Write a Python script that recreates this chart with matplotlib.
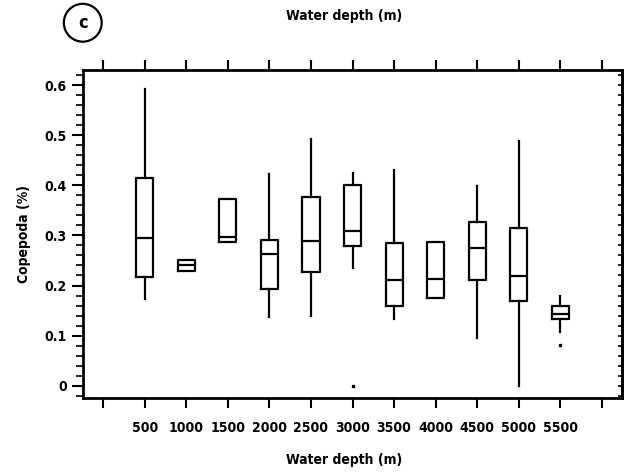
import matplotlib
matplotlib.use("Agg")
import matplotlib.pyplot as plt
from matplotlib.ticker import MultipleLocator

plt.rcParams['font.family'] = ['DejaVu Sans']
plt.rcParams['font.stretch'] = 'condensed'
plt.rcParams['font.weight'] = 'bold'

# water depth classes (m) and copepod share per class
depths = [500, 1000, 1500, 2000, 2500, 3000, 3500, 4000, 4500, 5000, 5500]
whisk_low = [0.174, 0.229, 0.287, 0.137, 0.140, 0.234, 0.133, 0.176, 0.095, 0.000, 0.107]
q1 = [0.216, 0.229, 0.287, 0.194, 0.226, 0.279, 0.160, 0.176, 0.210, 0.170, 0.134]
median = [0.294, 0.240, 0.296, 0.262, 0.289, 0.309, 0.210, 0.212, 0.274, 0.218, 0.143]
q3 = [0.415, 0.251, 0.373, 0.291, 0.377, 0.401, 0.284, 0.286, 0.326, 0.314, 0.159]
whisk_high = [0.592, 0.251, 0.373, 0.422, 0.492, 0.424, 0.431, 0.286, 0.399, 0.489, 0.180]
outliers = [[], [], [], [], [], [0.0], [], [], [], [], [0.081]]

stats = []
for i in range(len(depths)):
    stats.append(dict(whislo=whisk_low[i], q1=q1[i], med=median[i],
                      q3=q3[i], whishi=whisk_high[i], fliers=outliers[i]))

fig = plt.figure(figsize=(6.27, 4.74), dpi=100)
ax = fig.add_axes([0.133, 0.161, 0.8585, 0.691])

lw = 1.6
ax.bxp(stats, positions=depths, widths=205, showcaps=False, patch_artist=False,
       boxprops=dict(color='black', linewidth=lw),
       medianprops=dict(color='black', linewidth=lw),
       whiskerprops=dict(color='black', linewidth=lw),
       flierprops=dict(marker='s', markersize=1.5, markerfacecolor='black',
                       markeredgecolor='black'),
       manage_ticks=False)

ax.set_xlim(-240, 6240)
ax.set_ylim(-0.024, 0.630)

ax.set_xticks(range(0, 6001, 500))
ax.set_xticklabels([''] + [str(d) for d in depths] + [''])
ax.set_yticks([0, 0.1, 0.2, 0.3, 0.4, 0.5, 0.6])
ax.set_yticklabels(['0', '0.1', '0.2', '0.3', '0.4', '0.5', '0.6'])
ax.yaxis.set_minor_locator(MultipleLocator(0.02))

for s in ax.spines.values():
    s.set_linewidth(2)

ax.tick_params(axis='x', which='major', direction='out', length=7, width=1.5,
               top=True, labelsize=10, pad=10)
ax.tick_params(axis='y', which='major', direction='out', length=8, width=1.5,
               labelsize=10, pad=4)
ax.tick_params(axis='y', which='minor', direction='out', length=5, width=1.2)

# short inward ticks along the right edge
rax = ax.secondary_yaxis('right')
rax.set_yticks([0, 0.1, 0.2, 0.3, 0.4, 0.5, 0.6])
rax.yaxis.set_minor_locator(MultipleLocator(0.02))
rax.tick_params(axis='y', which='both', direction='in', length=3, width=1.2,
                labelright=False)
rax.spines['right'].set_linewidth(2)

ax.set_xlabel('Water depth (m)', fontsize=10, fontweight='bold', labelpad=13)
ax.set_ylabel('Copepoda (%)', fontsize=10, fontweight='bold', labelpad=10)
title = ax.set_title('Water depth (m)', fontsize=10, fontweight='bold', pad=36)
title.set_x(0.485)
ax.xaxis.label.set_x(0.485)

fig.text(0.132, 0.952, 'c', fontsize=13, fontweight='bold', ha='center', va='center',
         bbox=dict(boxstyle='circle,pad=0.55', fc='white', ec='black', lw=1.6))

fig.savefig('out.png', dpi=100)
